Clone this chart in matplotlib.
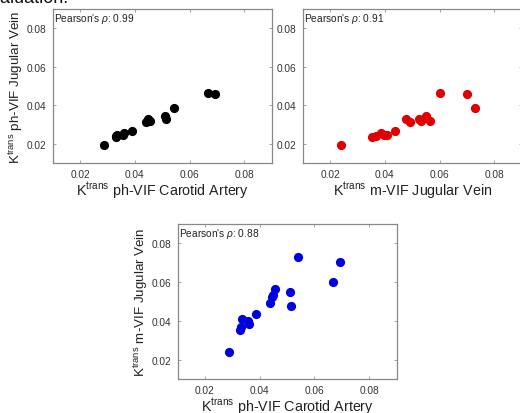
import matplotlib
matplotlib.use("Agg")
import matplotlib.pyplot as plt

plt.rcParams['font.family'] = ['Liberation Sans', 'DejaVu Sans']
plt.rcParams['mathtext.fontset'] = 'custom'
plt.rcParams['mathtext.rm'] = 'Liberation Sans'
plt.rcParams['mathtext.it'] = 'Liberation Sans:italic'

# Ktrans per subject, three VIF choices
carotid_ph = [0.0289, 0.0330, 0.0331, 0.0334, 0.0357, 0.0360, 0.0388, 0.0439,
              0.0447, 0.0450, 0.0455, 0.0511, 0.0515, 0.0542, 0.0668, 0.0693]
jugular_ph = [0.0195, 0.0234, 0.0240, 0.0248, 0.0246, 0.0255, 0.0267, 0.0311,
              0.0326, 0.0316, 0.0320, 0.0346, 0.0331, 0.0384, 0.0464, 0.0456]
jugular_m = [0.0241, 0.0352, 0.0366, 0.0408, 0.0398, 0.0386, 0.0436, 0.0493,
             0.0525, 0.0533, 0.0565, 0.0550, 0.0478, 0.0730, 0.0600, 0.0702]

pearson = [0.99, 0.91, 0.88]
ticks = [0.02, 0.04, 0.06, 0.08]

K = r'K$^{\rm trans}$'
lbl_car_ph = K + ' ph-VIF Carotid Artery'
lbl_jug_ph = K + ' ph-VIF Jugular Vein'
lbl_jug_m = K + ' m-VIF Jugular Vein'

W, H = 520, 414
fig = plt.figure(figsize=(W / 100, H / 100), dpi=100)


def px_axes(left, top, w, h):
    return fig.add_axes([left / W, 1 - (top + h) / H, w / W, h / H])


def scatter_panel(ax, x, y, color, rho, xlabel, ylabel):
    ax.plot(x, y, 'o', color=color, ms=5.6, mec=color)
    ax.set_xlim(0.01, 0.09)
    ax.set_ylim(0.01, 0.09)
    ax.set_xticks(ticks)
    ax.set_yticks(ticks)
    ax.set_xticklabels([f'{t:.2f}' for t in ticks])
    ax.set_yticklabels([f'{t:.2f}' for t in ticks])
    ax.tick_params(direction='in', length=2.5, width=0.6, color='#999999',
                   labelsize=7.3, labelcolor='#333333', pad=4.5,
                   top=True, right=True)
    for s in ax.spines.values():
        s.set_color('#888888')
        s.set_linewidth(0.9)
    ax.set_xlabel(xlabel, fontsize=10.3, color='#222222', labelpad=0)
    ax.set_ylabel(ylabel, fontsize=9.6, color='#222222', labelpad=1)
    ax.text(0.008, 0.985, r"Pearson's $\rho$: " + f'{rho:.2f}',
            transform=ax.transAxes, fontsize=7.3, va='top', ha='left',
            color='#222222')


ax1 = px_axes(52.7, 10, 219, 154)
scatter_panel(ax1, carotid_ph, jugular_ph, 'black', pearson[0],
              lbl_car_ph, lbl_jug_ph)

ax2 = px_axes(302.7, 10, 219, 154)
scatter_panel(ax2, jugular_m, jugular_ph, '#e00000', pearson[1],
              lbl_jug_m, '')

ax3 = px_axes(177.5, 225, 219, 155)
scatter_panel(ax3, carotid_ph, jugular_m, '#0000e0', pearson[2],
              lbl_car_ph, lbl_jug_m)

# tail of the caption line above the panels
fig.text(-0.037, 1 - 3 / H, 'evaluation.', fontsize=13, va='baseline',
         ha='left', color='#111111')

fig.savefig('out.png', dpi=100)
